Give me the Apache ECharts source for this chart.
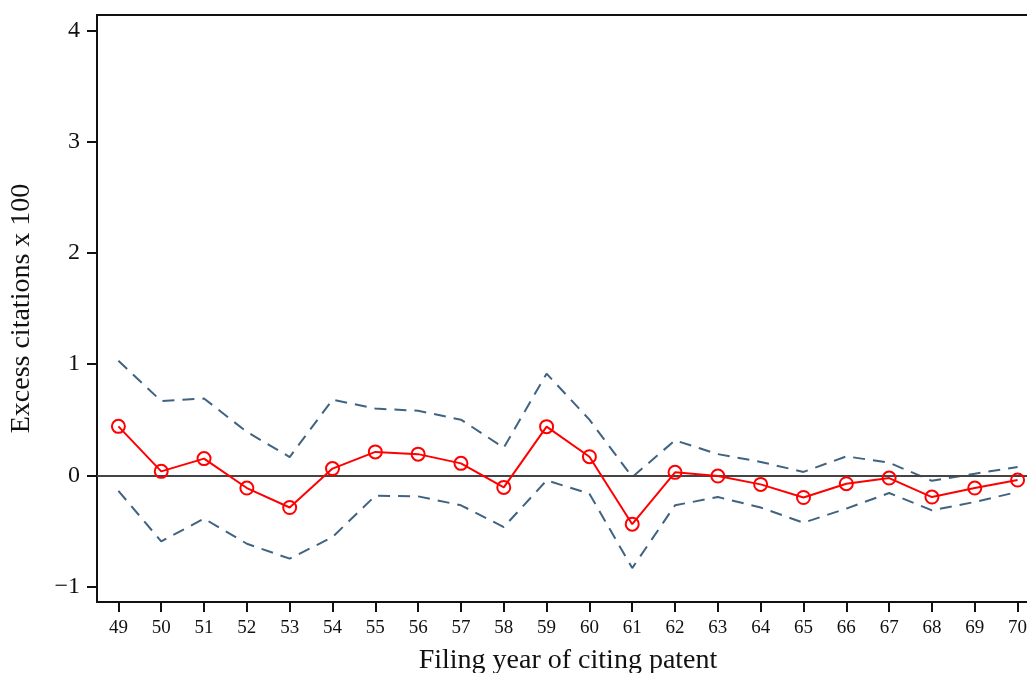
<!DOCTYPE html>
<html><head><meta charset="utf-8">
<script src="https://cdn.jsdelivr.net/npm/echarts@6/dist/echarts.min.js"></script>
<style>html,body{margin:0;padding:0;background:#fff}#c{width:1027px;height:673px}</style>
</head><body><div id="c"></div>
<script>
var years = ['49','50','51','52','53','54','55','56','57','58','59','60','61','62','63','64','65','66','67','68','69','70'];
var estimate = [0.44,0.035,0.15,-0.115,-0.29,0.06,0.21,0.19,0.107,-0.109,0.437,0.167,-0.44,0.026,-0.007,-0.082,-0.2,-0.076,-0.025,-0.196,-0.115,-0.043];
var upper = [1.03,0.668,0.69,0.39,0.164,0.68,0.6,0.58,0.5,0.248,0.914,0.5,-0.016,0.314,0.19,0.12,0.03,0.17,0.113,-0.05,0.014,0.074];
var lower = [-0.14,-0.595,-0.39,-0.616,-0.75,-0.556,-0.184,-0.19,-0.27,-0.466,-0.046,-0.166,-0.835,-0.27,-0.196,-0.29,-0.427,-0.3,-0.16,-0.316,-0.24,-0.15];
var yTicks = [-1,0,1,2,3,4];

var font = '"Liberation Serif","DejaVu Serif",serif';
var chart = echarts.init(document.getElementById('c'));
chart.setOption({
  animation:false,
  backgroundColor:'#fff',
  grid:{left:97, top:15, width:942, bottom:71, show:false, containLabel:false, outerBoundsMode:'none'},
  xAxis:{type:'category', data:years, boundaryGap:true,
    name:'Filing year of citing patent', nameLocation:'middle', nameGap:45,
    nameTextStyle:{fontFamily:font, fontSize:28, color:'#111'},
    axisLine:{show:true, onZero:false, lineStyle:{color:'#111', width:2}},
    axisTick:{show:true, interval:0, alignWithLabel:true, length:10, lineStyle:{color:'#111', width:2}},
    axisLabel:{interval:0, fontFamily:font, fontSize:19, color:'#111', margin:17}},
  yAxis:{type:'value', min:-1.14, max:4.14, position:'left',
    name:'Excess citations x 100', nameLocation:'middle', nameGap:61, nameRotate:90,
    nameTextStyle:{fontFamily:font, fontSize:28, color:'#111'},
    splitLine:{show:false},
    axisLine:{show:true, onZero:false, lineStyle:{color:'#111', width:2}},
    axisTick:{show:true, length:10, customValues:yTicks, lineStyle:{color:'#111', width:2}},
    axisLabel:{fontFamily:font, fontSize:24, color:'#111', margin:17, customValues:yTicks,
      formatter:function(v){return v<0 ? '\u2212'+Math.abs(v) : String(v);}}},
  graphic:[{type:'line', shape:{x1:96, y1:15, x2:1027, y2:15}, style:{stroke:'#111', lineWidth:2}}],
  series:[
    {type:'line', data:upper, symbol:'none', lineStyle:{color:'#3f6381', width:2, type:[12,8]}, z:2},
    {type:'line', data:lower, symbol:'none', lineStyle:{color:'#3f6381', width:2, type:[12,8]}, z:2},
    {type:'line', data:estimate, symbol:'circle', symbolSize:13,
      itemStyle:{color:'transparent', borderColor:'#ff0000', borderWidth:2},
      lineStyle:{color:'#ff0000', width:2}, z:4,
      markLine:{silent:true, symbol:'none', label:{show:false},
        lineStyle:{color:'#444', width:2, type:'solid'}, data:[{yAxis:0}], z:3}}
  ]
});
</script></body></html>
